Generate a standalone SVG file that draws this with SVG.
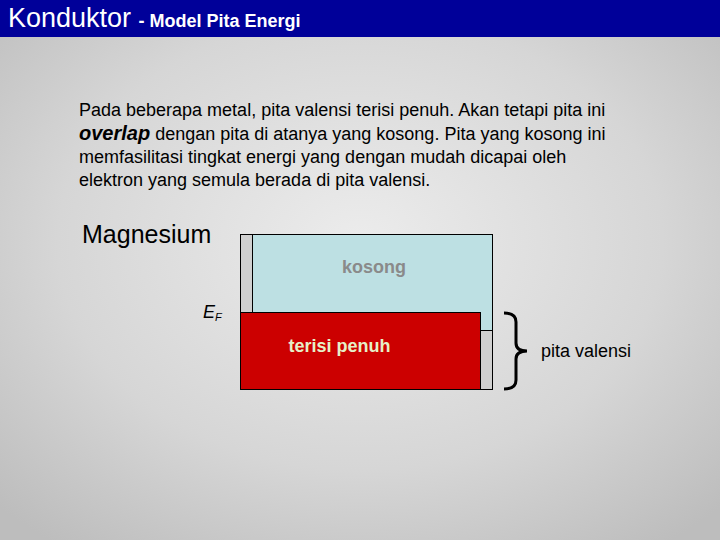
<svg xmlns="http://www.w3.org/2000/svg" width="720" height="540" viewBox="0 0 720 540">
<defs>
<radialGradient id="bg" cx="50%" cy="45%" r="70%">
<stop offset="0" stop-color="#ececec"/>
<stop offset="0.6" stop-color="#d6d6d6"/>
<stop offset="1" stop-color="#bdbdbd"/>
</radialGradient>
</defs>
<style>
text{font-family:"Liberation Sans",Arial,sans-serif;}
.p{font-size:18px;fill:#000;}
.box{stroke:#000;stroke-width:1;}
</style>
<rect x="0" y="0" width="720" height="540" fill="url(#bg)"/>
<g id="header">
<rect x="0" y="0" width="720" height="37" fill="#000099"/>
<text x="8" y="27" fill="#fff" font-size="27">Konduktor <tspan font-size="18" font-weight="bold">- Model Pita Energi</tspan></text>
</g>
<g id="paragraph">
<text class="p" x="79" y="116">Pada beberapa metal, pita valensi terisi penuh. Akan tetapi pita ini</text>
<text class="p" x="79" y="140"><tspan font-weight="bold" font-style="italic" font-size="20">overlap</tspan> dengan pita di atanya yang kosong. Pita yang kosong ini</text>
<text class="p" x="79" y="163">memfasilitasi tingkat energi yang dengan mudah dicapai oleh</text>
<text class="p" x="79" y="186">elektron yang semula berada di pita valensi.</text>
</g>
<g id="magnesium-label">
<text x="82" y="243" font-size="25">Magnesium</text>
</g>
<g id="band-outline">
<rect class="box" x="240.5" y="234.5" width="252" height="155" fill="#d0d0d0"/>
</g>
<g id="band-kosong">
<rect class="box" x="252.5" y="234.5" width="240" height="96" fill="#bde0e3"/>
<text x="374" y="273" font-size="18" font-weight="bold" fill="#8a8a8a" text-anchor="middle">kosong</text>
</g>
<g id="band-penuh">
<rect class="box" x="240.5" y="312.5" width="240" height="77" fill="#cc0000"/>
<text x="339.5" y="352" font-size="18" font-weight="bold" fill="#e6f0c8" text-anchor="middle">terisi penuh</text>
</g>
<g id="fermi-label">
<text x="203" y="318" font-size="18" font-style="italic">E<tspan font-size="11" dy="3">F</tspan></text>
</g>
<g id="connectors">
<path d="M504,313 Q516,313 516,322 L516,343 Q516,351 527,351 Q516,351 516,359 L516,380 Q516,389 504,389" fill="none" stroke="#000" stroke-width="3"/>
</g>
<g id="pita-valensi-label">
<text x="541" y="357" font-size="18">pita valensi</text>
</g>
</svg>
